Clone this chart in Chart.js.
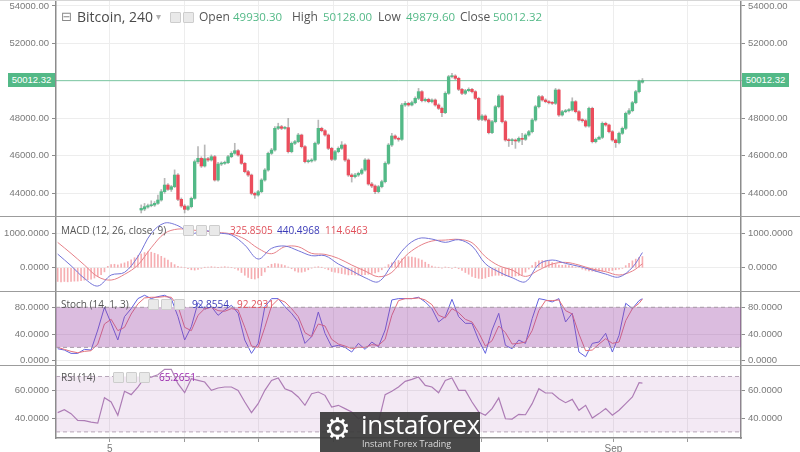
<!DOCTYPE html>
<html>
<head>
<meta charset="utf-8">
<script src="https://cdn.jsdelivr.net/npm/chart.js@4.4.1/dist/chart.umd.min.js"></script>
<style>
  html, body { margin: 0; padding: 0; background: #fff; }
  #wrap { position: relative; width: 800px; height: 452px; overflow: hidden; font-family: 'Open Sans', sans-serif; }
  #wrap canvas { position: absolute; left: 0; }
  .t { position: absolute; white-space: nowrap; line-height: 14px; height: 14px; }
  .sep { position: absolute; left: 0; width: 800px; height: 0; border-top: 1.5px solid #9c9c9c; }
  .ico { position: absolute; width: 9px; height: 9px; background: #e9e9e9; border: 1px solid #cdcdcd; border-radius: 1px; }
</style>
</head>
<body>
<div id="wrap">
  <canvas id="cPrice" width="800" height="216" style="top:0"></canvas>
  <canvas id="cMacd" width="800" height="75" style="top:216px"></canvas>
  <canvas id="cStoch" width="800" height="74" style="top:291px"></canvas>
  <canvas id="cRsi" width="800" height="87" style="top:365px"></canvas>
</div>
<script>
// Bitcoin, 240 min candles. first visible candle is on slot 25 of the x axis
var firstSlot = 25;

var open = [43107,43160,43267,43338,43374,43463,43641,44086,44442,44211,
  44353,44976,43677,43321,43143,43285,43730,45688,45866,45457,
  45848,45777,45955,44709,45563,45599,45635,45955,46133,46275,
  46044,45599,45154,44976,43997,43908,44086,44709,45243,46133,
  46311,47468,47557,47468,47504,46222,46667,46756,47112,46489,
  45688,45724,45777,46667,47468,47343,47112,46400,45813,46222,
  46400,46578,45777,44976,44887,44976,45065,45243,45777,44495,
  44389,44086,44353,44620,45599,46578,47059,46934,46881,48714,
  48803,48714,48839,49070,49426,48945,49017,48892,48981,48714,
  48536,48305,49337,50227,50263,50138,49551,49337,49479,49551,
  49426,49070,47949,48127,47913,47237,47824,48625,49195,47824,
  46845,46809,46845,46792,46934,46881,47112,47290,47913,48625,
  49159,48981,48892,48839,48803,49515,48180,48358,48411,48447,
  48892,48358,47913,47877,47593,48536,46756,46881,46987,47735,
  47646,47290,46845,46703,47201,47468,48269,48411,48839,49426,
  49930.30];
var high = [43380,43460,43420,43600,43560,43900,44200,44800,44520,44420,
  45250,45050,43750,43400,43350,43800,45780,46490,45950,46580,
  45920,46050,46020,45650,45680,45720,46030,46220,46670,46330,
  46100,45650,45220,45030,44060,44160,44780,45320,46200,46400,
  47560,47740,47630,47580,48000,46740,46830,47200,47160,46550,
  45800,45850,46740,47910,47530,47400,47170,46460,46300,46480,
  46760,46640,45840,45050,45060,45130,45320,45860,45840,44580,
  44450,44420,44700,45680,46660,47200,47120,47000,48800,48900,
  48860,48920,49150,49600,49480,49090,49080,49050,49040,48780,
  48600,49420,50300,50400,50330,50200,49610,49550,49630,49610,
  49480,49130,48200,48190,47970,47900,48700,49270,49250,47890,
  46920,46920,46900,47010,47200,47180,47360,47990,48700,49230,
  49220,49050,48950,48900,49600,49570,48430,48480,48520,49100,
  48950,48420,47980,47940,48600,48600,46950,47060,47810,47800,
  47700,47350,46900,47270,47540,48340,48520,48910,49500,50050,
  50128.00];
var low = [42950,43070,43200,43280,43300,43400,43580,44000,44150,44100,
  44300,43600,43250,42950,43080,43220,43680,45600,45380,45400,
  45700,45720,44650,44650,45480,45540,45580,45900,46080,45980,
  45540,45090,44900,43920,43730,43850,44030,44650,45180,46070,
  46250,47400,47400,47420,46150,46160,46600,46700,46420,45620,
  45620,45660,45720,46600,47280,47050,46330,45740,45760,46160,
  46340,45700,44900,44600,44820,44900,45000,45180,44430,44300,
  43980,44020,44290,44560,45540,46500,46870,46780,46820,48640,
  48650,48660,48780,49000,48880,48880,48830,48820,48650,48470,
  48090,48250,49280,50160,50070,49480,49270,49270,49420,49360,
  49000,47880,47880,47850,47170,47180,47760,48560,47760,46780,
  46500,46600,46400,46720,46600,46820,47050,47230,47850,48560,
  48920,48830,48770,48740,48740,48110,48120,48300,48350,48390,
  48290,47850,47800,47530,47530,46690,46690,46920,46920,47580,
  47220,46780,46450,46640,47140,47400,48200,48350,48780,49360,
  49879.60];
var close = [43196,43285,43338,43374,43463,43641,44086,44442,44211,44353,
  44976,43677,43321,43143,43285,43730,45688,45866,45457,45848,
  45777,45955,44709,45563,45599,45635,45955,46133,46275,46044,
  45599,45154,44976,43997,43908,44086,44709,45243,46133,46311,
  47468,47557,47468,47504,46222,46667,46756,47112,46489,45688,
  45724,45777,46667,47468,47343,47112,46400,45813,46222,46400,
  46578,45777,44976,44887,44976,45065,45243,45777,44495,44389,
  44086,44353,44620,45599,46578,47059,46934,46881,48714,48803,
  48714,48839,49070,49426,48945,49017,48892,48981,48714,48536,
  48305,49337,50227,50263,50138,49551,49337,49479,49551,49426,
  49070,47949,48127,47913,47237,47824,48625,49195,47824,46845,
  46809,46845,46792,46934,46881,47112,47290,47913,48625,49159,
  48981,48892,48839,48803,49515,48180,48358,48411,48447,48892,
  48358,47913,47877,47593,48536,46756,46881,46987,47735,47646,
  47290,46845,46703,47201,47468,48269,48411,48839,49426,49978,
  50012.32];

// MACD (12, 26, close, 9): histogram on every slot 0..175
var macdHist = [-400,-410,-400,-410,-400,-390,-390,-380,-360,-350,
  -330,-300,-260,-200,-120,40,90,100,80,110,
  140,180,230,290,350,400,440,465,450,420,
  380,330,280,220,150,90,40,20,0,-30,
  -60,-70,-50,-20,10,20,30,20,10,20,
  30,20,0,-20,-70,-140,-220,-280,-320,-330,
  -300,-230,-120,40,100,120,110,90,60,20,
  -30,-90,-130,-130,-110,-60,-10,20,30,10,
  -20,-60,-110,-130,-150,-170,-190,-210,-200,-210,
  -220,-210,-200,-190,-170,-150,-120,-60,20,90,
  140,170,210,260,300,320,310,290,260,220,
  160,100,50,20,10,-10,20,0,-20,10,
  -30,-80,-140,-190,-250,-290,-310,-320,-300,-260,
  -240,-220,-220,-230,-240,-250,-250,-240,-230,-200,
  -130,-40,60,160,200,210,200,190,150,110,
  80,70,80,60,40,20,0,-40,-70,-90,
  -100,-110,-100,-100,-90,-90,-80,-60,-40,-20,
  60,130,200,250,300,325.8505];
// MACD and signal lines, read every 4th slot (last one is slot 175)
var macdLine = [397,58,-310,-533,-213,-136,320,998,1298,1221,
  998,1076,1008,950,659,252,562,630,494,349,
  349,107,-87,-291,-407,78,590,850,833,737,
  814,630,116,-120,-291,-407,100,223,126,39,
  -68,-184,-271,10,440.4968];
var signalLine = [736,417,78,-262,-359,-194,78,581,998,1124,
  1095,1066,1027,979,833,562,407,610,610,417,
  388,271,78,-97,-262,-136,330,620,775,804,
  824,727,320,60,-68,-252,-68,107,155,78,
  -39,-116,-213,-97,114.6463];

// Stoch (14, 1, 3) and RSI (14), read every 2nd slot (last one is slot 175)
var stochK = [18,16,11,11,17,16,46,80,56,31,
  66,78,93,98,93,96,98,93,66,31,
  51,87,77,81,68,76,83,71,31,11,
  26,81,93,93,81,71,58,26,36,73,
  41,21,23,20,13,26,17,28,21,46,
  91,93,93,93,95,88,78,58,66,92,
  66,56,56,31,11,46,71,23,18,31,
  26,63,93,91,88,93,58,71,13,6,
  26,28,41,13,38,86,78,90,92.8554];
var stochD = [20,17,14,12,14,15,25,55,62,45,
  50,70,85,94,95,95,96,95,82,50,
  45,68,78,80,75,74,78,76,50,22,
  20,50,82,92,88,78,66,42,36,55,
  52,32,25,22,18,20,20,24,23,32,
  68,90,93,93,94,91,84,68,64,78,
  72,62,58,42,22,30,52,42,25,26,
  28,45,75,90,90,91,75,70,40,15,
  16,25,33,26,28,60,78,86,92.2931];
var rsi = [43.9,46.0,43.2,38.3,38.1,37.1,36.4,54.7,51.6,42.0,
  59.3,56.9,62.4,69.1,69.6,71.3,75.2,75.2,64.8,58.3,
  68.4,67.2,66.0,60.0,61.7,62.4,62.4,60.0,51.6,43.9,
  50.4,60.0,67.2,68.9,61.2,59.3,55.2,49.2,57.6,58.8,
  56.4,48.0,49.2,46.8,44.4,39.5,42.0,32.3,37.1,56.9,
  59.3,62.4,66.5,67.9,69.6,63.6,62.4,58.3,67.2,68.9,
  60.0,60.0,51.6,44.4,42.0,46.8,54.5,39.5,39.3,42.7,
  42.4,50.4,61.2,58.1,58.1,54.0,51.1,53.5,45.6,49.2,
  40.0,43.2,46.8,42.0,45.6,50.4,55.2,65.5,65.2651];

var priceTicks = [44000, 46000, 48000, 50000, 52000, 54000];
var macdTicks = [0, 1000];
var stochTicks = [0, 40, 80];
var rsiTicks = [40, 60];
var xTicks = [15.6, 38, 60, 82.4, 104.8, 126.7, 146.6, 166.3, 188.4];
var xTickLabels = ['5', '', '', '', '', '', '', 'Sep', ''];

var upColor = '#53b987';
var downColor = '#eb4d5c';
var lastClose = close[close.length - 1];

function slotsEvery(step) {
  var s = [];
  for (var i = 0; i < 175; i += step) s.push(i);
  s.push(175);
  return s;
}
function pts(slots, vals) {
  return vals.map(function(v, i) { return {x: slots[i], y: v}; });
}
function flat(v) {
  return [{x: -0.5, y: v}, {x: 204.5, y: v}];
}

function yAxes(min, max, ticks, digits, hide) {
  function axis(pos, w) {
    return {
      position: pos, min: min, max: max,
      afterBuildTicks: function(s) { s.ticks = ticks.map(function(v) { return {value: v}; }); },
      afterFit: function(s) { s.width = w; s.paddingTop = 0; s.paddingBottom = 0; },
      ticks: {
        color: '#7a7a7a', padding: 3,
        font: {family: 'Liberation Sans', size: 9.5},
        callback: function(v) { return (hide && hide.indexOf(v) >= 0) ? '' : v.toFixed(digits); }
      },
      grid: {color: '#ededed', tickColor: '#8c8c8c', tickLength: 4, drawOnChartArea: pos === 'right'},
      border: {color: '#8c8c8c', width: 1.5}
    };
  }
  return {yl: axis('left', 56), y: axis('right', 59)};
}

function xAxis(bottom) {
  return {
    type: 'linear', min: -0.5, max: 204.5, offset: false,
    afterBuildTicks: function(s) { s.ticks = xTicks.map(function(v) { return {value: v}; }); },
    afterFit: function(s) { s.height = bottom ? 14 : 0; s.paddingLeft = 0; s.paddingRight = 0; },
    ticks: {
      display: bottom, autoSkip: false, maxRotation: 0, padding: 1,
      color: '#777', font: {family: 'Liberation Sans', size: 10},
      callback: function(v, i) { return xTickLabels[i]; }
    },
    grid: {color: '#ededed', offset: false, drawTicks: bottom, tickLength: 4, tickColor: '#9a9a9a'},
    border: {display: bottom, color: '#8c8c8c', width: 1.5}
  };
}

function baseOptions(scales) {
  return {
    responsive: false, animation: false, devicePixelRatio: 1,
    layout: {padding: 0},
    plugins: {legend: {display: false}, tooltip: {enabled: false}},
    scales: scales
  };
}

// price panel
var bodies = [], wicks = [], bodyColors = [];
for (var i = 0; i < open.length; i++) {
  bodies.push({x: firstSlot + i, y: [open[i], close[i]]});
  wicks.push({x: firstSlot + i, y: [low[i], high[i]]});
  bodyColors.push(close[i] >= open[i] ? upColor : downColor);
}
var ps = yAxes(42788, 54320, priceTicks, 2, [50000]);
new Chart(document.getElementById('cPrice'), {
  type: 'bar',
  data: {
    datasets: [
      {type: 'line', data: flat(lastClose), borderColor: 'rgba(83,185,135,0.75)', borderWidth: 1,
        pointRadius: 0, yAxisID: 'y', order: 3},
      {data: wicks, backgroundColor: 'rgba(125,125,125,0.55)', barThickness: 1, grouped: false,
        yAxisID: 'y', order: 2},
      {data: bodies, backgroundColor: bodyColors, barThickness: 2.7, grouped: false, minBarLength: 1,
        yAxisID: 'y', order: 1}
    ]
  },
  options: baseOptions({x: xAxis(false), yl: ps.yl, y: ps.y})
});

// MACD panel
var m4 = slotsEvery(4);
var ms = yAxes(-677, 1503, macdTicks, 4);
new Chart(document.getElementById('cMacd'), {
  type: 'bar',
  data: {
    datasets: [
      {type: 'line', data: pts(m4, macdLine), borderColor: '#7474d8', borderWidth: 1, pointRadius: 0,
        tension: 0.35, yAxisID: 'y', order: 0},
      {type: 'line', data: pts(m4, signalLine), borderColor: '#e68088', borderWidth: 1, pointRadius: 0,
        tension: 0.35, yAxisID: 'y', order: 1},
      {data: macdHist.map(function(v, i) { return {x: i, y: v}; }), backgroundColor: 'rgba(240,125,130,0.62)',
        barThickness: 1, grouped: false, yAxisID: 'y', order: 2}
    ]
  },
  options: baseOptions({x: xAxis(false), yl: ms.yl, y: ms.y})
});

// Stoch panel
var s2 = slotsEvery(2);
var ss = yAxes(-6.4, 104.4, stochTicks, 4);
new Chart(document.getElementById('cStoch'), {
  type: 'line',
  data: {
    datasets: [
      {data: flat(80), borderColor: '#a89aa8', borderWidth: 1, borderDash: [4, 3], pointRadius: 0, fill: false, yAxisID: 'y'},
      {data: flat(20), borderColor: '#a89aa8', borderWidth: 1, borderDash: [4, 3], pointRadius: 0,
        fill: '-1', backgroundColor: 'rgba(155,70,165,0.36)', yAxisID: 'y'},
      {data: pts(s2, stochD), borderColor: '#e4707a', borderWidth: 1, pointRadius: 0, fill: false, yAxisID: 'y'},
      {data: pts(s2, stochK), borderColor: '#6262de', borderWidth: 1, pointRadius: 0, fill: false, yAxisID: 'y'}
    ]
  },
  options: baseOptions({x: xAxis(false), yl: ss.yl, y: ss.y})
});

// RSI panel
var rs = yAxes(25.6, 78.3, rsiTicks, 4);
new Chart(document.getElementById('cRsi'), {
  type: 'line',
  data: {
    datasets: [
      {data: flat(70), borderColor: '#b7a6b9', borderWidth: 1, borderDash: [4, 3], pointRadius: 0, fill: false, yAxisID: 'y'},
      {data: flat(30), borderColor: '#b7a6b9', borderWidth: 1, borderDash: [4, 3], pointRadius: 0,
        fill: '-1', backgroundColor: 'rgba(155,70,165,0.12)', yAxisID: 'y'},
      {data: pts(s2, rsi), borderColor: '#b084b8', borderWidth: 1.2, pointRadius: 0, fill: false, yAxisID: 'y'}
    ]
  },
  options: baseOptions({x: xAxis(true), yl: rs.yl, y: rs.y})
});

// overlays: separators, legends, last price boxes, watermark
var wrap = document.getElementById('wrap');
function el(cls, css, text) {
  var d = document.createElement('div');
  d.className = cls;
  d.style.cssText = css;
  if (text) d.textContent = text;
  wrap.appendChild(d);
  return d;
}
function txt(s, x, yc, size, color, extra) {
  return el('t', 'left:' + x + 'px;top:' + (yc - 7) + 'px;font-size:' + size + 'px;color:' + color + ';' + (extra || ''), s);
}
function icons(x, y, n) {
  for (var k = 0; k < n; k++) el('ico', 'left:' + (x + k * 13) + 'px;top:' + y + 'px');
}

el('sep', 'top:0;border-top:1px solid #d6d6d6');
el('sep', 'top:215.5px');
el('sep', 'top:290.5px');
el('sep', 'top:364.5px');

txt('\u229F', 61, 17, 13, '#8a8a8a', 'font-family:DejaVu Sans');
txt('Bitcoin, 240', 77, 17, 14, '#4a4a4a');
txt('\u25BE', 156, 17, 10, '#b0b0b0', 'font-family:DejaVu Sans');
icons(170, 12, 2);
txt('Open', 199, 17, 12, '#555');
txt('49930.30', 233, 17, 11.5, upColor);
txt('High', 292, 17, 12, '#555');
txt('50128.00', 323, 17, 11.5, upColor);
txt('Low', 378, 17, 12, '#555');
txt('49879.60', 406, 17, 11.5, upColor);
txt('Close', 460, 17, 12, '#555');
txt('50012.32', 493, 17, 11.5, upColor);

txt('MACD (12, 26, close, 9)', 61, 230, 10, '#555');
icons(183, 225, 3);
txt('325.8505', 230, 230, 10, '#e0505a');
txt('440.4968', 277, 230, 10, '#3a3ab8');
txt('114.6463', 325, 230, 10, '#e0505a');

txt('Stoch (14, 1, 3)', 61, 304, 10, '#555');
icons(148, 299, 3);
txt('92.8554', 192, 304, 10, '#3a3ab8');
txt('92.2931', 237, 304, 10, '#e0505a');

txt('RSI (14)', 61, 377, 10, '#555');
icons(113, 372, 3);
txt('65.2651', 159, 377, 10, '#9a2aae');

var boxCss = 'height:14px;line-height:14px;background:' + upColor + ';color:#fff;font-family:Liberation Sans;font-size:9.5px;text-align:center;';
el('t', boxCss + 'left:8px;top:73px;width:47px', lastClose.toFixed(2));
el('t', boxCss + 'left:742px;top:73px;width:47px', lastClose.toFixed(2));

var wm = el('t', 'left:320px;top:412px;width:160px;height:40px;background:rgba(58,58,58,0.93)');
txt('\u2699', 324, 430, 30, '#fff', 'font-family:DejaVu Sans;line-height:30px;height:30px;top:414px');
txt('instaforex', 361, 425, 26, '#fff', 'line-height:30px;height:30px;top:409px;letter-spacing:-0.3px');
txt('Instant Forex Trading', 362, 444, 9, '#dcdcdc');
</script>
</body>
</html>
